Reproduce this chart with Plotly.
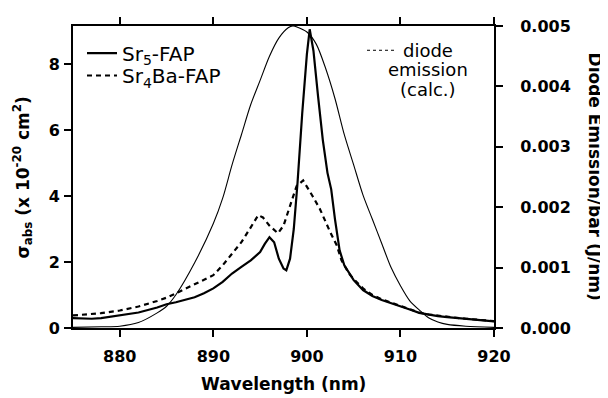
import plotly.graph_objects as go

# ---- data ----
sr5_wl = [875, 876, 877, 878, 880, 882, 884, 885, 886, 887, 888, 889, 890, 891, 892, 893, 894, 895,
          895.5, 896, 896.5, 897, 897.5, 897.8, 898.2, 898.6, 899, 899.5, 900, 900.3, 900.7, 901.2,
          901.7, 902.2, 902.6, 903, 903.5, 904, 905, 906, 907, 908, 909, 910, 911, 912, 913, 914,
          915, 916, 917, 918, 919, 920]
sr5_sig = [0.30, 0.28, 0.28, 0.30, 0.38, 0.47, 0.62, 0.72, 0.78, 0.85, 0.93, 1.05, 1.20, 1.40, 1.65,
           1.85, 2.05, 2.30, 2.55, 2.75, 2.60, 2.10, 1.80, 1.75, 2.10, 3.00, 4.40, 6.50, 8.30, 9.05,
           8.40, 7.00, 5.70, 4.70, 4.20, 3.30, 2.35, 1.90, 1.45, 1.15, 0.97, 0.85, 0.76, 0.66, 0.56,
           0.46, 0.40, 0.36, 0.33, 0.30, 0.27, 0.25, 0.22, 0.20]

ba_wl = [875, 876, 878, 880, 882, 884, 885, 886, 888, 890, 891, 892, 893, 894, 894.8, 895.3, 896,
         896.9, 897.5, 898.2, 898.9, 899.6, 900.2, 900.6, 901.4, 902, 902.5, 903.2, 903.7, 904.5,
         905, 906, 907, 908, 909, 910, 911, 912, 913, 914, 915, 916, 917, 918, 919, 920]
ba_sig = [0.38, 0.40, 0.45, 0.53, 0.65, 0.82, 0.92, 1.05, 1.33, 1.60, 1.90, 2.25, 2.60, 3.05, 3.42,
          3.35, 3.10, 2.87, 3.10, 3.70, 4.30, 4.47, 4.20, 4.00, 3.60, 3.20, 2.90, 2.50, 2.05, 1.65,
          1.48, 1.20, 1.00, 0.87, 0.77, 0.67, 0.57, 0.47, 0.41, 0.37, 0.34, 0.31, 0.28, 0.26, 0.23,
          0.21]

diode_wl = [875, 878, 880, 882, 884, 885, 886, 888, 890, 891, 892, 893, 894, 895, 896, 897, 898,
            898.5, 899, 900, 901, 902, 903, 904, 905, 906, 907, 908, 909, 910, 911, 912, 913, 914,
            915, 917, 920]
diode_em = [0.00001, 0.00002, 0.00003, 0.00009, 0.00025, 0.00036, 0.00055, 0.00108, 0.00173,
            0.00215, 0.0027, 0.0032, 0.0037, 0.0041, 0.0045, 0.0048, 0.00497, 0.005, 0.00498,
            0.0049, 0.0047, 0.0043, 0.0038, 0.0032, 0.0027, 0.0022, 0.0018, 0.0014, 0.0010,
            0.0007, 0.00045, 0.0003, 0.00017, 0.0001, 0.00006, 0.00003, 0.00001]

x_ticks = [880, 890, 900, 910, 920]
y_ticks = [0, 2, 4, 6, 8]
y2_ticks = [0, 0.001, 0.002, 0.003, 0.004, 0.005]

FONT = "DejaVu Sans"
X_RANGE = [875, 920]
Y_RANGE = [0, 9.15]
Y2_RANGE = [0, 0.005]

# page body has an 8px margin: figure is 600x390 placed at (8,8)
L, R, T, B = 65, 114, 9, 70
W, H = 600, 390
PW, PH = W - L - R, H - T - B


def px(xw):  # window x -> paper x
    return (xw - 8 - L) / PW


def py(yw):  # window y -> paper y
    return 1 - (yw - 8 - T) / PH


fig = go.Figure()
fig.add_trace(go.Scatter(x=sr5_wl, y=sr5_sig, mode="lines", name="Sr<sub>5</sub>-FAP",
                         legend="legend",
                         line=dict(color="black", width=2.2)))
fig.add_trace(go.Scatter(x=ba_wl, y=ba_sig, mode="lines", name="Sr<sub>4</sub>Ba-FAP",
                         legend="legend2",
                         line=dict(color="black", width=2.2, dash="5px,4px")))
fig.add_trace(go.Scatter(x=diode_wl, y=diode_em, mode="lines", name="diode emission (calc.)",
                         yaxis="y2", showlegend=False,
                         line=dict(color="black", width=1.1, shape="spline", smoothing=0.8)))

tickfont = dict(family=FONT, size=16, color="black", weight="bold")
common = dict(showgrid=False, zeroline=False, showline=True, linecolor="black", linewidth=2,
              tickcolor="black", tickwidth=2, ticklen=7)
legfont = dict(family=FONT, size=20, color="black")

fig.update_layout(
    width=W, height=H,
    margin=dict(l=L, r=R, t=T, b=B),
    paper_bgcolor="white", plot_bgcolor="white",
    font=dict(family=FONT, color="black"),
    xaxis=dict(range=X_RANGE, tickvals=x_ticks, ticks="outside", mirror="ticks",
               tickfont=tickfont, ticklabelstandoff=6, **common),
    xaxis2=dict(range=X_RANGE, tickvals=x_ticks, ticks="inside", mirror="ticks",
                overlaying="x", showticklabels=False, **common),
    yaxis=dict(range=Y_RANGE, tickvals=y_ticks, ticks="outside", tickfont=tickfont,
               ticklabelstandoff=1, **common),
    yaxis3=dict(range=Y_RANGE, tickvals=y_ticks, ticks="inside", overlaying="y",
                showticklabels=False, **common),
    yaxis2=dict(range=Y2_RANGE, tickvals=y2_ticks, tickformat=".3f", ticks="outside",
                side="right", overlaying="y", tickfont=tickfont, ticklabelstandoff=14, **common),
    yaxis4=dict(range=Y2_RANGE, tickvals=y2_ticks, ticks="inside", side="right",
                overlaying="y", showticklabels=False, **common),
    legend=dict(x=px(82), y=py(45), xanchor="left", yanchor="middle", bgcolor="rgba(0,0,0,0)",
                font=legfont, itemwidth=30),
    legend2=dict(x=px(82), y=py(68), xanchor="left", yanchor="middle", bgcolor="rgba(0,0,0,0)",
                 font=legfont, itemwidth=30),
    showlegend=True,
)

ann_font = dict(family=FONT, size=17, color="black", weight="bold")
fig.add_annotation(text="Wavelength (nm)", xref="paper", yref="paper", x=px(283), y=py(386),
                   xanchor="center", yanchor="middle", showarrow=False, font=ann_font)
fig.add_annotation(text="σ<sub>abs</sub> (x 10<sup>-20</sup> cm<sup>2</sup>)", xref="paper",
                   yref="paper", x=px(23), y=py(173), xanchor="center", yanchor="middle",
                   textangle=-90, showarrow=False, font=ann_font)
fig.add_annotation(text="Diode Emission/bar (J/nm)", xref="paper", yref="paper", x=px(595),
                   y=py(172), xanchor="center", yanchor="middle", textangle=90,
                   showarrow=False, font=ann_font)

# diode legend (text + sample line)
leg_font = dict(family=FONT, size=18, color="black")
for txt, yy in [("diode", 42), ("emission", 62), ("(calc.)", 82)]:
    fig.add_annotation(text=txt, xref="paper", yref="paper", x=px(428), y=py(yy),
                       xanchor="center", yanchor="middle", showarrow=False, font=leg_font)
fig.add_shape(type="line", xref="paper", yref="paper", x0=px(367), x1=px(394),
              y0=py(42), y1=py(42), line=dict(color="black", width=1, dash="dot"))

fig.write_html("out.html")
